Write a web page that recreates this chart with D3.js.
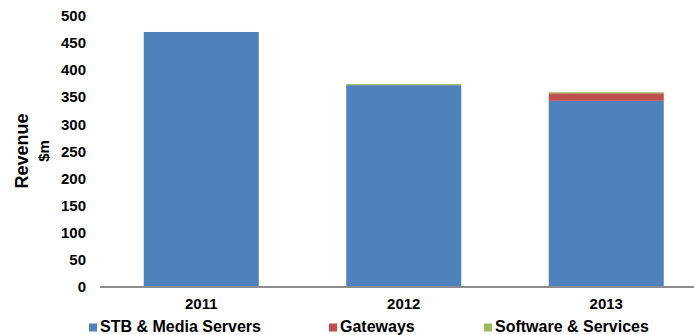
<!DOCTYPE html>
<html>
<head>
<meta charset="utf-8">
<script src="https://cdn.jsdelivr.net/npm/d3@7/dist/d3.min.js"></script>
<style>
  html, body { margin: 0; padding: 0; background: #fff; }
  svg { display: block; font-family: "Liberation Sans", Arial, sans-serif; font-weight: bold; }
</style>
</head>
<body>
<svg id="chart" width="694" height="335"></svg>
<script>
// Revenue by product line, $m
const years = ["2011", "2012", "2013"];
const seriesNames = ["STB & Media Servers", "Gateways", "Software & Services"];
const stbMediaServers = [470, 372, 343];
const gateways = [0, 0, 14];
const softwareServices = [0, 2, 2];
const yTicks = [0, 50, 100, 150, 200, 250, 300, 350, 400, 450, 500];
const colors = ["#4f81bd", "#c0504d", "#9bbb59"];

const svg = d3.select("#chart");

const rows = years.map((y, i) => ({
  year: y,
  "STB & Media Servers": stbMediaServers[i],
  "Gateways": gateways[i],
  "Software & Services": softwareServices[i]
}));

const stacked = d3.stack().keys(seriesNames)(rows);

const x = d3.scaleBand()
  .domain(years)
  .range([100, 707.5])
  .paddingInner(0.432)
  .paddingOuter(0.216);

const y = d3.scaleLinear()
  .domain([0, 500])
  .range([287, 15.7]);

const color = d3.scaleOrdinal().domain(seriesNames).range(colors);

// stacked bars
svg.append("g")
  .selectAll("g")
  .data(stacked)
  .join("g")
  .attr("fill", d => color(d.key))
  .selectAll("rect")
  .data(d => d)
  .join("rect")
  .attr("x", d => x(d.data.year))
  .attr("width", x.bandwidth())
  .attr("y", d => y(d[1]))
  .attr("height", d => y(d[0]) - y(d[1]));

// y axis: labels only
const yAxis = svg.append("g")
  .attr("transform", "translate(86,0)")
  .call(d3.axisLeft(y).tickValues(yTicks).tickSize(0).tickPadding(0));
yAxis.select(".domain").remove();
yAxis.selectAll("text")
  .attr("font-size", 15)
  .attr("font-family", "Liberation Sans, Arial, sans-serif")
  .attr("font-weight", "bold")
  .attr("fill", "#000");

// x axis baseline and category labels
const xAxis = svg.append("g")
  .attr("transform", `translate(0,${y(0)})`)
  .call(d3.axisBottom(x).tickSize(0).tickPadding(11));
xAxis.select(".domain")
  .attr("d", `M100,0H694`)
  .attr("stroke", "#8c8c8c")
  .attr("stroke-width", 2);
xAxis.selectAll("text")
  .attr("font-size", 15)
  .attr("font-family", "Liberation Sans, Arial, sans-serif")
  .attr("font-weight", "bold")
  .attr("fill", "#000");

// y axis title
const title = svg.append("g")
  .attr("font-weight", "bold")
  .attr("fill", "#000")
  .attr("text-anchor", "middle");
title.append("text")
  .attr("transform", "translate(28,151) rotate(-90)")
  .attr("font-size", 18)
  .text("Revenue");
title.append("text")
  .attr("transform", "translate(48.5,151) rotate(-90)")
  .attr("font-size", 15)
  .text("$m");

// legend
const legendX = [89, 329, 484];
const legend = svg.append("g")
  .selectAll("g")
  .data(seriesNames)
  .join("g")
  .attr("transform", (d, i) => `translate(${legendX[i]},0)`);
legend.append("rect")
  .attr("x", 0)
  .attr("y", 323.5)
  .attr("width", 8)
  .attr("height", 8)
  .attr("fill", d => color(d));
legend.append("text")
  .attr("x", 11)
  .attr("y", 332)
  .attr("font-size", 16)
  .attr("fill", "#000")
  .text(d => d);
</script>
</body>
</html>
